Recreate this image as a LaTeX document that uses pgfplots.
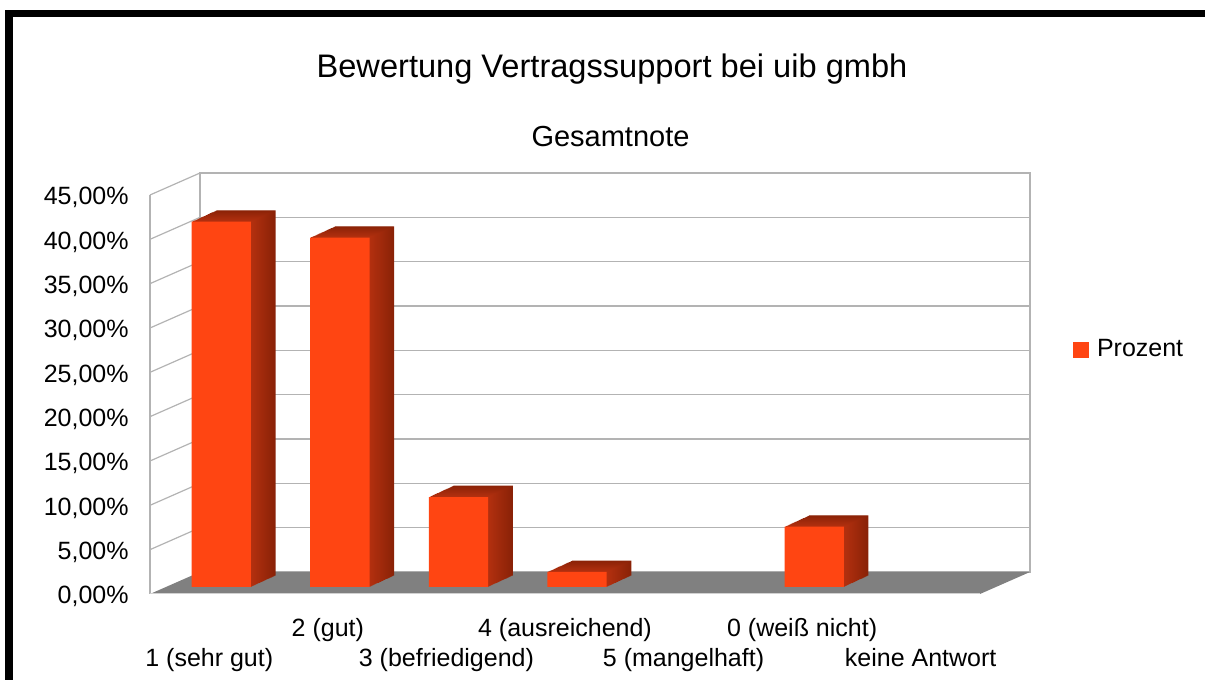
\documentclass[border=0pt]{standalone}
\usepackage{fontspec}
\setmainfont{Liberation Sans}
\usepackage{pgfplots}
\pgfplotsset{compat=1.18}
\usepackage{pgfplotstable}

\pgfplotstableread{
x   y
0.5 41.2
1.5 39.4
2.5 10.15
3.5 1.7
4.5 0
5.5 6.8
6.5 0
}\datatable

\definecolor{barfront}{HTML}{FF4512}
\definecolor{sidea}{HTML}{B3300F}
\definecolor{sideb}{HTML}{8A2207}
\definecolor{floorgray}{HTML}{808080}
\definecolor{gridgray}{HTML}{B3B3B3}

\pgfplotsset{
  base/.style={scale only axis, width=415pt, height=199.5pt,
    xmin=0, xmax=7, ymin=0, ymax=45, enlargelimits=false,
    anchor=south west, clip=false},
}

\begin{document}
\begin{tikzpicture}
\path[use as bounding box] (0,0) rectangle (602.5pt,340pt);
\begin{scope}
\clip (0,0) rectangle (602.5pt,340pt);
\draw[line width=3.85pt] (4.43pt,333.25pt) rectangle (640pt,-30pt);
\end{scope}

% back wall
\begin{axis}[base, at={(100pt,54pt)},
  axis line style={gridgray, line width=0.6pt},
  ytick={0,5,...,45}, xtick=\empty, yticklabels={},
  ymajorgrids, grid style={gridgray, line width=0.6pt},
  major tick length=0pt]
\end{axis}

% left wall
\foreach \k in {1,...,9} {
  \draw[gridgray, line width=0.6pt] (75pt,43pt+\k*22.1667pt) -- (100pt,54pt+\k*22.1667pt);
}
\draw[gridgray, line width=0.6pt] (75pt,43pt) -- (75pt,242.5pt);

% floor
\fill[floorgray] (75pt,43pt) -- (490pt,43pt) -- (515pt,54pt) -- (100pt,54pt) -- cycle;
\draw[gridgray!60, line width=0.5pt] (75pt,43pt) -- (490pt,43pt);

% bar depth (side and top faces)
\foreach \k in {24,23,...,1} {
  \pgfmathtruncatemacro{\mix}{100*(\k-1)/23}
  \begin{axis}[base, hide axis, ybar, bar width=0.5,
      at={(81pt+\k*0.5146pt,46.5pt+\k*0.2354pt)}]
    \addplot[fill=sideb!\mix!sidea, draw=none, restrict y to domain=0.01:100] table[x=x,y=y]{\datatable};
  \end{axis}
}

% bar front faces
\begin{axis}[base, hide axis, ybar, bar width=0.5, at={(81pt,46.5pt)},
  legend style={draw=none, fill=none, inner sep=0pt, outer sep=0pt,
    at={(axis description cs:1.0976,0.595)}, anchor=west,
    font=\fontsize{12.5}{15}\selectfont},
  legend image code/.code={\fill[barfront] (0pt,-4pt) rectangle (8pt,4pt);}]
  \addplot[fill=barfront, draw=none, restrict y to domain=0.01:100] table[x=x,y=y]{\datatable};
  \addlegendentry{\hspace{2pt}Prozent}
\end{axis}

% front axis with labels
\begin{axis}[base, at={(75pt,43pt)},
  axis line style={draw=none}, major tick length=0pt,
  /pgf/number format/assume math mode=true,
  tick label style={font=\fontsize{12.5}{15}\selectfont},
  ytick={0,5,...,45},
  yticklabel={\pgfmathprintnumber[fixed,fixed zerofill,precision=2,use comma]{\tick}\%},
  yticklabel style={anchor=base east, inner sep=0pt, xshift=-10.5pt, yshift=-5pt},
  xtick={0.5,1.5,...,6.5},
  xticklabels={1 (sehr gut),\raisebox{15pt}{2 (gut)},3 (befriedigend),\raisebox{15pt}{4 (ausreichend)},5 (mangelhaft),\raisebox{15pt}{0 (weiß nicht)},keine Antwort},
  xticklabel style={anchor=base, inner sep=0pt, yshift=-36.35pt}]
\end{axis}

\node[anchor=base, font=\fontsize{16.3}{20}\selectfont] at (306pt,301pt) {Bewertung Vertragssupport bei uib gmbh};
\node[anchor=base, font=\fontsize{14.5}{18}\selectfont] at (305.25pt,266.75pt) {Gesamtnote};
\end{tikzpicture}
\end{document}
